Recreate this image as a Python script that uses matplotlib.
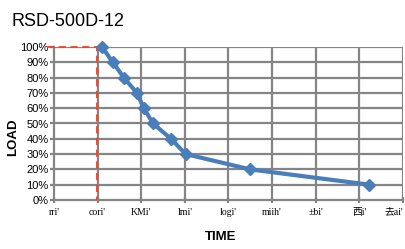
import numpy as np
from matplotlib import pyplot as plt
from matplotlib.ticker import PercentFormatter

title = 'RSD-500D-12'
# tick positions along the time axis and their (garbled) labels
time_ticks = [0, 1, 2, 3, 4, 5, 6, 7, 8]
time_labels = ["rri'", "cori'", "KMi'", "lmi'", "logi'", "miih'", "±bi'", "西i'", "去ai'"]
# derating curve
time_pos = [1.1, 1.35, 1.6, 1.9, 2.06, 2.27, 2.68, 3.02, 4.5, 7.23]
load_pct = [100, 90, 80, 70, 60, 50, 40, 30, 20, 10]
# red marker line
ref_x = 0.98
ref_load = 100

fig = plt.figure(figsize=(4.06, 2.49), dpi=100)
ax = fig.add_axes([54/406, 1 - 200/249, 349/406, 153/249])

grid_col = '#858585'
for y in range(10, 101, 10):
    ax.axhline(y, color=grid_col, lw=1.6, zorder=1)
for x in time_ticks[1:]:
    ax.axvline(x, color=grid_col, lw=1.6, zorder=1)

ax.plot([-0.15, ref_x, ref_x], [ref_load, ref_load, 0], color='#ff3b1a', lw=1.3,
        ls=(0, (4, 2.5)), zorder=3, clip_on=False)
ax.plot(time_pos, load_pct, color='#4a7ebb', lw=3, marker='D', ms=6,
        zorder=4, clip_on=False)

ax.set_xlim(0, 8)
ax.set_ylim(0, 100)
ax.set_yticks(range(0, 101, 10))
ax.yaxis.set_major_formatter(PercentFormatter(decimals=0))
ax.set_xticks(time_ticks)
ax.set_xticklabels(time_labels, family=['Liberation Serif', 'Noto Sans CJK SC'], fontsize=7)
ax.get_xticklabels()[-1].set_horizontalalignment('right')
for lab in ax.get_yticklabels():
    lab.set_family('Liberation Sans')
    lab.set_fontsize(8)
ax.tick_params(axis='y', length=3, width=1.6, color=grid_col, pad=1)
ax.tick_params(axis='x', length=5, width=1.6, color=grid_col, direction='inout', pad=3)

for s in ['top', 'right']:
    ax.spines[s].set_visible(False)
for s in ['left', 'bottom']:
    ax.spines[s].set_color(grid_col)
    ax.spines[s].set_linewidth(1.6)

fig.text(12/406, 1 - 21/249, title, family='Liberation Sans', fontsize=13, va='center')
fig.text(13/406, 1 - 137/249, 'LOAD', family='Liberation Sans', fontweight='bold',
         fontsize=9.5, rotation=90, ha='center', va='center')
fig.text(221/406, 1 - 237/249, 'TIME', family='Liberation Sans', fontweight='bold',
         fontsize=9.5, ha='center', va='center')

fig.savefig('out.png', dpi=100)
